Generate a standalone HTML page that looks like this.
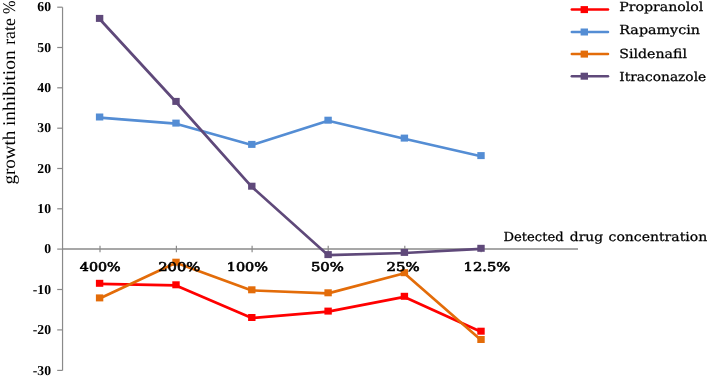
<!DOCTYPE html>
<html><head><meta charset="utf-8"><title>chart</title>
<style>
html,body{margin:0;padding:0;background:#fff;}
svg{display:block;}
text{text-rendering:geometricPrecision;}
.yl{font-family:"Liberation Serif",serif;font-weight:bold;font-size:13.7px;fill:#000;}
.xl{font-family:"DejaVu Serif",serif;font-size:12.2px;fill:#000;stroke:#000;stroke-width:0.6px;}
.lg{font-family:"DejaVu Serif",serif;font-size:12.5px;fill:#000;stroke:#000;stroke-width:0.25px;}
.yt{font-family:"Liberation Serif",serif;font-size:17.9px;fill:#000;}
</style></head><body>
<svg width="709" height="376" viewBox="0 0 709 376">
<rect width="709" height="376" fill="#fff"/>

<g stroke="#8a8a8a" stroke-width="1.2" fill="none">
<line x1="62.55" y1="7.2" x2="62.55" y2="370.4"/>
<line x1="62" y1="249.0" x2="578" y2="249.0" stroke-width="1.35"/>
<line x1="57.2" y1="7.2" x2="62.5" y2="7.2"/>
<line x1="57.2" y1="47.5" x2="62.5" y2="47.5"/>
<line x1="57.2" y1="87.8" x2="62.5" y2="87.8"/>
<line x1="57.2" y1="128.2" x2="62.5" y2="128.2"/>
<line x1="57.2" y1="168.5" x2="62.5" y2="168.5"/>
<line x1="57.2" y1="208.8" x2="62.5" y2="208.8"/>
<line x1="57.2" y1="249.1" x2="62.5" y2="249.1"/>
<line x1="57.2" y1="289.5" x2="62.5" y2="289.5"/>
<line x1="57.2" y1="329.9" x2="62.5" y2="329.9"/>
<line x1="57.2" y1="370.4" x2="62.5" y2="370.4"/>
<line x1="100.0" y1="245.8" x2="100.0" y2="252.2"/>
<line x1="176.4" y1="245.8" x2="176.4" y2="252.2"/>
<line x1="252.1" y1="245.8" x2="252.1" y2="252.2"/>
<line x1="328.2" y1="245.8" x2="328.2" y2="252.2"/>
<line x1="404.8" y1="245.8" x2="404.8" y2="252.2"/>
<line x1="481.1" y1="245.8" x2="481.1" y2="252.2"/>
</g>
<polyline points="99.6,283.9 176.0,285.4 251.8,318.1 328.1,311.7 404.4,296.9 481.0,331.8" fill="none" stroke="#FF0000" stroke-width="2.7" stroke-linejoin="round" stroke-linecap="round"/>
<rect x="95.9" y="279.8" width="7.4" height="7" fill="#FF0000"/>
<rect x="172.3" y="281.3" width="7.4" height="7" fill="#FF0000"/>
<rect x="248.1" y="314.0" width="7.4" height="7" fill="#FF0000"/>
<rect x="324.4" y="307.6" width="7.4" height="7" fill="#FF0000"/>
<rect x="400.7" y="292.8" width="7.4" height="7" fill="#FF0000"/>
<rect x="477.3" y="327.7" width="7.4" height="7" fill="#FF0000"/>
<polyline points="99.6,117.6 176.0,123.7 251.8,145.0 328.1,120.8 404.4,138.7 481.0,156.2" fill="none" stroke="#548DD4" stroke-width="2.7" stroke-linejoin="round" stroke-linecap="round"/>
<rect x="95.9" y="113.5" width="7.4" height="7" fill="#548DD4"/>
<rect x="172.3" y="119.6" width="7.4" height="7" fill="#548DD4"/>
<rect x="248.1" y="140.9" width="7.4" height="7" fill="#548DD4"/>
<rect x="324.4" y="116.7" width="7.4" height="7" fill="#548DD4"/>
<rect x="400.7" y="134.6" width="7.4" height="7" fill="#548DD4"/>
<rect x="477.3" y="152.1" width="7.4" height="7" fill="#548DD4"/>
<polyline points="99.6,298.5 176.0,262.8 251.8,290.4 328.1,293.4 404.4,273.3 481.0,340.1" fill="none" stroke="#E36C09" stroke-width="2.7" stroke-linejoin="round" stroke-linecap="round"/>
<rect x="95.9" y="294.4" width="7.4" height="7" fill="#E36C09"/>
<rect x="172.3" y="258.7" width="7.4" height="7" fill="#E36C09"/>
<rect x="248.1" y="286.3" width="7.4" height="7" fill="#E36C09"/>
<rect x="324.4" y="289.3" width="7.4" height="7" fill="#E36C09"/>
<rect x="400.7" y="269.2" width="7.4" height="7" fill="#E36C09"/>
<rect x="477.3" y="336.0" width="7.4" height="7" fill="#E36C09"/>
<polyline points="99.6,19.0 176.0,102.0 251.8,186.8 328.1,255.2 404.4,253.0 481.0,248.9" fill="none" stroke="#5F497A" stroke-width="2.7" stroke-linejoin="round" stroke-linecap="round"/>
<rect x="95.9" y="14.9" width="7.4" height="7" fill="#5F497A"/>
<rect x="172.3" y="97.9" width="7.4" height="7" fill="#5F497A"/>
<rect x="248.1" y="182.7" width="7.4" height="7" fill="#5F497A"/>
<rect x="324.4" y="251.1" width="7.4" height="7" fill="#5F497A"/>
<rect x="400.7" y="248.9" width="7.4" height="7" fill="#5F497A"/>
<rect x="477.3" y="244.8" width="7.4" height="7" fill="#5F497A"/>
<text class="yl" x="51" y="11.3" text-anchor="end">60</text>
<text class="yl" x="51" y="51.6" text-anchor="end">50</text>
<text class="yl" x="51" y="91.9" text-anchor="end">40</text>
<text class="yl" x="51" y="132.3" text-anchor="end">30</text>
<text class="yl" x="51" y="172.6" text-anchor="end">20</text>
<text class="yl" x="51" y="212.9" text-anchor="end">10</text>
<text class="yl" x="51" y="253.2" text-anchor="end">0</text>
<text class="yl" x="51" y="293.6" text-anchor="end">-10</text>
<text class="yl" x="51" y="334.0" text-anchor="end">-20</text>
<text class="yl" x="51" y="374.5" text-anchor="end">-30</text>
<text class="xl" x="79.8" y="270.6" textLength="40.9" lengthAdjust="spacingAndGlyphs">400%</text>
<text class="xl" x="158.2" y="270.6" textLength="42.0" lengthAdjust="spacingAndGlyphs">200%</text>
<text class="xl" x="226.7" y="270.6" textLength="41.3" lengthAdjust="spacingAndGlyphs">100%</text>
<text class="xl" x="310.9" y="270.6" textLength="33.0" lengthAdjust="spacingAndGlyphs">50%</text>
<text class="xl" x="386.6" y="270.6" textLength="33.1" lengthAdjust="spacingAndGlyphs">25%</text>
<text class="xl" x="463.6" y="270.6" textLength="46.7" lengthAdjust="spacingAndGlyphs">12.5%</text>
<line x1="571.8" y1="9.6" x2="608" y2="9.6" stroke="#FF0000" stroke-width="2.5" stroke-linecap="round"/>
<rect x="580.6" y="6.1" width="7.4" height="7" fill="#FF0000"/>
<text class="lg" x="619.3" y="11.3" textLength="84.1" lengthAdjust="spacingAndGlyphs">Propranolol</text>
<line x1="571.8" y1="32.0" x2="608" y2="32.0" stroke="#548DD4" stroke-width="2.5" stroke-linecap="round"/>
<rect x="580.6" y="28.5" width="7.4" height="7" fill="#548DD4"/>
<text class="lg" x="619.3" y="34.3" textLength="80.6" lengthAdjust="spacingAndGlyphs">Rapamycin</text>
<line x1="571.8" y1="54.1" x2="608" y2="54.1" stroke="#E36C09" stroke-width="2.5" stroke-linecap="round"/>
<rect x="580.6" y="50.6" width="7.4" height="7" fill="#E36C09"/>
<text class="lg" x="619.3" y="57.8" textLength="67.7" lengthAdjust="spacingAndGlyphs">Sildenafil</text>
<line x1="571.8" y1="76.2" x2="608" y2="76.2" stroke="#5F497A" stroke-width="2.5" stroke-linecap="round"/>
<rect x="580.6" y="72.7" width="7.4" height="7" fill="#5F497A"/>
<text class="lg" x="619.3" y="80.6" textLength="86.9" lengthAdjust="spacingAndGlyphs">Itraconazole</text>
<text class="lg" x="503.5" y="241" textLength="60.2" lengthAdjust="spacingAndGlyphs">Detected</text>
<text class="lg" x="569.8" y="241" textLength="33.2" lengthAdjust="spacingAndGlyphs">drug</text>
<text class="lg" x="608.6" y="241" textLength="98.6" lengthAdjust="spacingAndGlyphs">concentration</text>
<text class="yt" transform="translate(15.3,184.6) rotate(-90)" textLength="54.0" lengthAdjust="spacingAndGlyphs">growth</text>
<text class="yt" transform="translate(15.3,126.1) rotate(-90)" textLength="75.8" lengthAdjust="spacingAndGlyphs">inhibition</text>
<text class="yt" transform="translate(15.3,44.8) rotate(-90)" textLength="26.6" lengthAdjust="spacingAndGlyphs">rate</text>
<text class="yt" transform="translate(15.3,14.0) rotate(-90)" textLength="13.5" lengthAdjust="spacingAndGlyphs">%</text>
</svg></body></html>
